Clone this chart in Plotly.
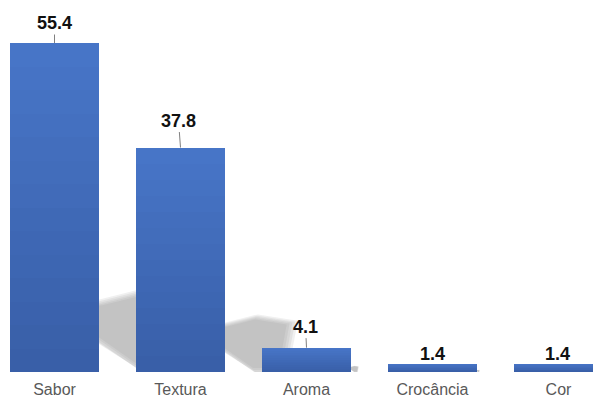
import plotly.graph_objects as go

# ---- data ----
categories = ["Sabor", "Textura", "Aroma", "Crocância", "Cor"]
values = [55.4, 37.8, 4.1, 1.4, 1.4]
value_labels = ["55.4", "37.8", "4.1", "1.4", "1.4"]

# label offsets (pixels) for the leader-line annotations
label_dx = [0, -2, -1, 0, -1]
label_dy = [-20, -27, -21, -10, -10]

# ---- layout constants ----
W, H = 593, 398
MARGIN_B = 26
PLOT_H = H - MARGIN_B
BAR_WIDTH = 0.706
X_RANGE = [-0.4325, 4.2738]
Y_RANGE = [0, 62.64]
px_per_x = W / (X_RANGE[1] - X_RANGE[0])
px_per_y = PLOT_H / (Y_RANGE[1] - Y_RANGE[0])

TOP_COLOR = (71, 117, 199)
BOTTOM_COLOR = (57, 95, 168)
N_STEPS = 14


def mix(c1, c2, t):
    return "rgb(%d,%d,%d)" % tuple(round(a + (b - a) * t) for a, b in zip(c1, c2))


fig = go.Figure()

# ---- soft perspective shadows (derived from bar geometry) ----
# template relative to the bar's bottom-right corner, in units of bar height (px)
shadow_tpl = [(0.13, 0.0), (-0.10, 0.161), (-0.10, 0.20), (0.0, 0.21),
              (0.14, 0.245), (0.30, 0.22), (0.26, 0.0)]
shapes = []
for i, v in enumerate(values):
    h_px = v * px_per_y
    pts = [(dx * h_px, dy * h_px) for dx, dy in shadow_tpl]
    cx = sum(p[0] for p in pts) / len(pts)
    cy = sum(p[1] for p in pts) / len(pts)
    for scale in (1.12, 1.06, 1.0, 0.94, 0.88):
        spts = [(cx + (px - cx) * scale, max(0.0, cy + (py - cy) * scale)) for px, py in pts]
        coords = []
        for px, py in spts:
            xd = i + BAR_WIDTH / 2 + px / px_per_x
            yd = py / px_per_y
            coords.append("%.4f,%.4f" % (xd, yd))
        path = "M " + " L ".join(coords) + " Z"
        shapes.append(dict(type="path", path=path, xref="x", yref="y", layer="below",
                           fillcolor="rgba(135,135,135,0.12)", line=dict(width=0)))

# ---- bars with vertical gradient (stacked overlays) ----
for k in range(N_STEPS):
    frac = (N_STEPS - k) / N_STEPS
    t = k / (N_STEPS - 1)
    fig.add_trace(go.Bar(
        x=categories,
        y=[v * frac for v in values],
        width=BAR_WIDTH,
        marker=dict(color=mix(TOP_COLOR, BOTTOM_COLOR, t), line=dict(width=0)),
        hoverinfo="skip",
        showlegend=False,
    ))

# ---- value labels with leader lines ----
for c, v, t, dx, dy in zip(categories, values, value_labels, label_dx, label_dy):
    fig.add_annotation(
        x=c, y=v, xref="x", yref="y",
        text="<b>%s</b>" % t,
        showarrow=True, arrowhead=0, arrowwidth=1, arrowcolor="#808080",
        ax=dx, ay=dy, standoff=0,
        font=dict(family="Arial, Liberation Sans, sans-serif", size=18, color="#111111"),
    )

fig.update_layout(
    width=W, height=H,
    margin=dict(l=0, r=0, t=0, b=MARGIN_B),
    paper_bgcolor="white", plot_bgcolor="white",
    barmode="overlay", bargap=0,
    shapes=shapes,
    showlegend=False,
    xaxis=dict(type="category", range=X_RANGE, showgrid=False, zeroline=False,
               showline=False, ticks="", ticklabelstandoff=6,
               tickfont=dict(family="Arial, Liberation Sans, sans-serif", size=16, color="#595959"),
               fixedrange=True),
    yaxis=dict(range=Y_RANGE, visible=False, showgrid=False, zeroline=False, fixedrange=True),
)

fig.write_html("out.html")
